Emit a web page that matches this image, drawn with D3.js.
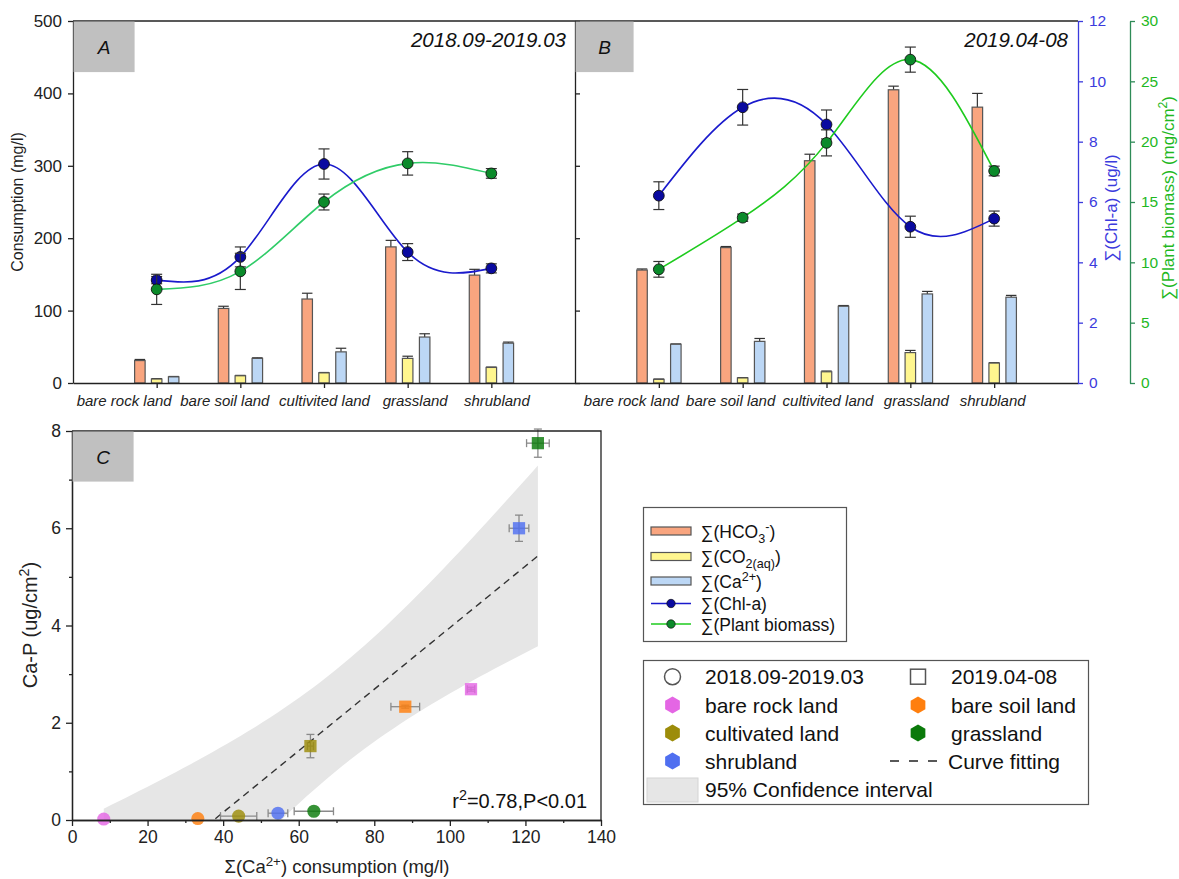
<!DOCTYPE html>
<html>
<head>
<meta charset="utf-8">
<script src="https://cdn.jsdelivr.net/npm/d3@7"></script>
<style>
  body { margin: 0; background: #fff; }
  svg { font-family: 'Liberation Sans', Arial, sans-serif; }
</style>
</head>
<body>
<div id="chart"></div>
<script>
// ---------- data ----------
var landTypes = ['bare rock land', 'bare soil land', 'cultivited land', 'grassland', 'shrubland'];

// panel A : 2018.09-2019.03
var hco3A = [31, 103, 116, 188, 149];
var hco3ErrA = [1.5, 3, 8, 9, 8];
var co2A = [5.5, 10, 14, 34, 21.5];
var co2ErrA = [0.5, 0.5, 0.5, 3, 0.5];
var caA = [8.5, 34, 43, 63.5, 55];
var caErrA = [0.5, 0.8, 5, 4.5, 1.5];
var chlA = [3.41, 4.18, 7.26, 4.34, 3.8];
var chlErrA = [0.12, 0.33, 0.5, 0.28, 0.15];
var bioA = [7.76, 9.25, 15.0, 18.2, 17.37];
var bioErrA = [1.25, 1.5, 0.66, 0.97, 0.4];

// panel B : 2019.04-08
var hco3B = [156, 187, 307, 405, 381];
var hco3ErrB = [1.5, 1.5, 9, 5, 19];
var co2B = [5, 7, 15.5, 42, 27.5];
var co2ErrB = [0.5, 0.5, 1, 3, 0.5];
var caB = [53.5, 57.5, 106, 123, 118.5];
var caErrB = [0.5, 4, 1, 3.5, 2.5];
var chlB = [6.21, 9.14, 8.57, 5.18, 5.45];
var chlErrB = [0.46, 0.59, 0.48, 0.35, 0.25];
var bioB = [9.42, 13.7, 19.9, 26.8, 17.57];
var bioErrB = [0.65, 0.3, 1.08, 1.04, 0.4];

// panel C : Ca-P vs Ca2+ consumption
var scatterLand = ['bare rock land', 'bare soil land', 'cultivated land', 'grassland', 'shrubland'];
var landColors = ['#e466e4', '#ff7f0e', '#9c8c0a', '#0a7a0a', '#4f6ff0'];
var caCons2018 = [8.4, 33.3, 44.1, 64.0, 54.5];
var caConsErr2018 = [0, 0, 4.8, 5.2, 2.6];
var caP2018 = [0.02, 0.03, 0.08, 0.18, 0.14];
var caPErr2018 = [0, 0, 0, 0, 0];
var caCons2019 = [105.6, 88.2, 63.1, 123.3, 118.3];
var caConsErr2019 = [1, 3.8, 0.8, 3, 2.6];
var caP2019 = [2.69, 2.33, 1.52, 7.75, 6.0];
var caPErr2019 = [0.04, 0.03, 0.24, 0.29, 0.27];

var fontFam = "'Liberation Sans', Arial, sans-serif";

var svg = d3.select('#chart')
            .append('svg')
            .attr('width', 1179)
            .attr('height', 879);

// writes text with sub/superscript parts: [[text, 'sub'|'sup'|null], ...]
function addRich(sel, parts, size) {
  var shift = 0;
  parts.forEach(function(p) {
    var target = p[1] === 'sub' ? size * 0.3 : (p[1] === 'sup' ? -size * 0.4 : 0);
    var t = sel.append('tspan').text(p[0]).attr('dy', target - shift);
    if (p[1]) t.style('font-size', (size * 0.72) + 'px');
    shift = target;
  });
  return sel;
}

function styleAxis(g, color, size) {
  g.attr('font-family', fontFam).attr('font-size', size);
  g.selectAll('path.domain').attr('stroke', color).attr('stroke-width', 1.3);
  g.selectAll('.tick line').attr('stroke', color).attr('stroke-width', 1.3);
  g.selectAll('.tick text').attr('fill', color);
}

// ---------- panels A and B ----------
var yCons = d3.scaleLinear().domain([0, 500]).range([383, 21]);
var yChl = d3.scaleLinear().domain([0, 12]).range([383, 21]);
var yBio = d3.scaleLinear().domain([0, 30]).range([383, 21]);
var xA = d3.scaleLinear().domain([0, 6]).range([73, 575]);
var xB = d3.scaleLinear().domain([0, 6]).range([575, 1078]);

function drawPanel(x, d, bioColor, labelShift) {
  var g = svg.append('g');
  var barW = 10.5;
  var barSets = [
    { v: d.hco3, e: d.hco3Err, fill: '#f9a57f', off: -16.8 },
    { v: d.co2, e: d.co2Err, fill: '#fff68f', off: 0 },
    { v: d.ca, e: d.caErr, fill: '#bcd7f5', off: 17 }
  ];

  barSets.forEach(function(s) {
    var cx = function(v, i) { return x(i + 1) + s.off; };

    g.selectAll(null).data(s.v).enter().append('line')
     .attr('x1', cx).attr('x2', cx)
     .attr('y1', function(v) { return yCons(v); })
     .attr('y2', function(v, i) { return yCons(v + s.e[i]); })
     .attr('stroke', '#333').attr('stroke-width', 1.2);

    g.selectAll(null).data(s.v).enter().append('line')
     .attr('x1', function(v, i) { return cx(v, i) - barW / 2; })
     .attr('x2', function(v, i) { return cx(v, i) + barW / 2; })
     .attr('y1', function(v, i) { return yCons(v + s.e[i]); })
     .attr('y2', function(v, i) { return yCons(v + s.e[i]); })
     .attr('stroke', '#333').attr('stroke-width', 1.2);

    g.selectAll(null).data(s.v).enter().append('rect')
     .attr('x', function(v, i) { return cx(v, i) - barW / 2; })
     .attr('y', function(v) { return yCons(v); })
     .attr('width', barW)
     .attr('height', function(v) { return yCons(0) - yCons(v); })
     .attr('fill', s.fill)
     .attr('stroke', '#555')
     .attr('stroke-width', 1.2);
  });

  var series = [
    { v: d.chl, e: d.chlErr, y: yChl, line: '#1a1acc', fill: '#0a0aa0' },
    { v: d.bio, e: d.bioErr, y: yBio, line: bioColor, fill: '#0b8a2a' }
  ];

  series.forEach(function(s) {
    var line = d3.line()
                 .x(function(v, i) { return x(i + 1); })
                 .y(function(v) { return s.y(v); })
                 .curve(d3.curveNatural);
    g.append('path')
     .datum(s.v)
     .attr('d', line)
     .attr('fill', 'none')
     .attr('stroke', s.line)
     .attr('stroke-width', 1.6);
  });

  series.forEach(function(s) {
    var eb = g.selectAll(null).data(s.v).enter().append('g');
    eb.append('line')
      .attr('x1', function(v, i) { return x(i + 1); })
      .attr('x2', function(v, i) { return x(i + 1); })
      .attr('y1', function(v, i) { return s.y(v - s.e[i]); })
      .attr('y2', function(v, i) { return s.y(v + s.e[i]); });
    [-1, 1].forEach(function(sign) {
      eb.append('line')
        .attr('x1', function(v, i) { return x(i + 1) - 5.5; })
        .attr('x2', function(v, i) { return x(i + 1) + 5.5; })
        .attr('y1', function(v, i) { return s.y(v + sign * s.e[i]); })
        .attr('y2', function(v, i) { return s.y(v + sign * s.e[i]); });
    });
    eb.selectAll('line').attr('stroke', '#333').attr('stroke-width', 1.2);

    g.selectAll(null).data(s.v).enter().append('circle')
     .attr('cx', function(v, i) { return x(i + 1); })
     .attr('cy', function(v) { return s.y(v); })
     .attr('r', 5.4)
     .attr('fill', s.fill)
     .attr('stroke', '#111')
     .attr('stroke-width', 0.9);
  });

  // x axis (labels nudged apart like in the original figure)
  var xAxis = d3.axisBottom(x)
                .tickValues([1, 2, 3, 4, 5])
                .tickFormat(function(i) { return landTypes[i - 1]; })
                .tickSize(5)
                .tickSizeOuter(0)
                .tickPadding(7);
  var gx = svg.append('g')
              .attr('transform', 'translate(0,383)')
              .call(xAxis);
  styleAxis(gx, '#222', 15);
  gx.selectAll('.tick text')
    .style('font-style', 'italic')
    .attr('dx', function(i) { return labelShift[i - 1]; });
}

drawPanel(xA, {
  hco3: hco3A, hco3Err: hco3ErrA, co2: co2A, co2Err: co2ErrA, ca: caA, caErr: caErrA,
  chl: chlA, chlErr: chlErrA, bio: bioA, bioErr: bioErrA
}, '#30cc68', [-33, -16, 0, 7, 5]);

drawPanel(xB, {
  hco3: hco3B, hco3Err: hco3ErrB, co2: co2B, co2Err: co2ErrB, ca: caB, caErr: caErrB,
  chl: chlB, chlErr: chlErrB, bio: bioB, bioErr: bioErrB
}, '#1ecb1e', [-28, -12.5, 1, 5.5, -2]);

// top frame
svg.append('line')
   .attr('x1', 73).attr('x2', 1078).attr('y1', 21).attr('y2', 21)
   .attr('stroke', '#222').attr('stroke-width', 1.3);

// left axis of A
var gyA = svg.append('g')
             .attr('transform', 'translate(73,0)')
             .call(d3.axisLeft(yCons).tickValues([0, 100, 200, 300, 400, 500]).tickSize(5).tickSizeOuter(0).tickPadding(6));
styleAxis(gyA, '#222', 17);

// divider / left axis of B (ticks inward, no labels)
var gyB = svg.append('g')
             .attr('transform', 'translate(575,0)')
             .call(d3.axisRight(yCons).tickValues([0, 100, 200, 300, 400, 500]).tickSize(5).tickSizeOuter(0).tickFormat(''));
styleAxis(gyB, '#222', 17);

// right axes of B
var gChl = svg.append('g')
              .attr('transform', 'translate(1078,0)')
              .call(d3.axisRight(yChl).tickValues([0, 2, 4, 6, 8, 10, 12]).tickSize(5).tickSizeOuter(0).tickPadding(6));
styleAxis(gChl, '#3b3bdd', 15.5);

var gBio = svg.append('g')
              .attr('transform', 'translate(1130,0)')
              .call(d3.axisRight(yBio).tickValues([0, 5, 10, 15, 20, 25, 30]).tickSize(5).tickSizeOuter(0).tickPadding(6));
styleAxis(gBio, '#2e8b57', 15.5);
gBio.selectAll('.tick text').attr('fill', '#1fb81f');

// axis titles
svg.append('text')
   .attr('transform', 'translate(23,202) rotate(-90)')
   .attr('text-anchor', 'middle')
   .style('font-size', '16px')
   .attr('fill', '#222')
   .text('Consumption (mg/l)');

addRich(svg.append('text')
           .attr('transform', 'translate(1117,208) rotate(-90)')
           .attr('text-anchor', 'middle')
           .style('font-size', '17px')
           .attr('fill', '#3b3bdd'),
        [['\u2211(Chl-a) (ug/l)', null]], 17);

addRich(svg.append('text')
           .attr('transform', 'translate(1174,198) rotate(-90)')
           .attr('text-anchor', 'middle')
           .style('font-size', '17px')
           .attr('fill', '#1fb81f'),
        [['\u2211(Plant biomass) (mg/cm', null], ['2', 'sup'], [')', null]], 17);

// panel tags and periods
function panelTag(x0, y0, w, h, label) {
  svg.append('rect')
     .attr('x', x0).attr('y', y0).attr('width', w).attr('height', h)
     .attr('fill', '#c0c0c0');
  svg.append('text')
     .attr('x', x0 + w / 2).attr('y', y0 + 32)
     .attr('text-anchor', 'middle')
     .style('font-size', '19px')
     .style('font-style', 'italic')
     .attr('fill', '#111')
     .text(label);
}
panelTag(73.6, 21.6, 61, 50.5, 'A');
panelTag(575.6, 21.6, 58, 50.5, 'B');

svg.append('text')
   .attr('x', 566).attr('y', 47)
   .attr('text-anchor', 'end')
   .style('font-size', '20.5px')
   .style('font-style', 'italic')
   .attr('fill', '#111')
   .text('2018.09-2019.03');

svg.append('text')
   .attr('x', 1068).attr('y', 47)
   .attr('text-anchor', 'end')
   .style('font-size', '20.5px')
   .style('font-style', 'italic')
   .attr('fill', '#111')
   .text('2019.04-08');

// ---------- panel C ----------
var xC = d3.scaleLinear().domain([0, 140]).range([72, 601]);
var yC = d3.scaleLinear().domain([0, 8]).range([820, 431]);

var allX = caCons2018.concat(caCons2019);
var allY = caP2018.concat(caP2019);

// least squares fit and 95% confidence band of the mean
function linearFit(xs, ys) {
  var n = xs.length;
  var mx = d3.mean(xs), my = d3.mean(ys);
  var sxx = d3.sum(xs, function(v) { return (v - mx) * (v - mx); });
  var sxy = d3.sum(xs, function(v, i) { return (v - mx) * (ys[i] - my); });
  var b = sxy / sxx, a = my - b * mx;
  var sse = d3.sum(xs, function(v, i) { return Math.pow(ys[i] - a - b * v, 2); });
  return { a: a, b: b, s: Math.sqrt(sse / (n - 2)), n: n, mx: mx, sxx: sxx };
}
var fit = linearFit(allX, allY);
var tCrit = 2.306; // t(0.975, df = 8)

var xExtent = d3.extent(allX);
var bandX = d3.range(0, 61).map(function(k) { return xExtent[0] + (xExtent[1] - xExtent[0]) * k / 60; });
var band = bandX.map(function(v) {
  var yh = fit.a + fit.b * v;
  var hw = tCrit * fit.s * Math.sqrt(1 / fit.n + Math.pow(v - fit.mx, 2) / fit.sxx);
  return { x: v, lo: yh - hw, hi: yh + hw, y: yh };
});

svg.append('clipPath')
   .attr('id', 'clipC')
   .append('rect')
   .attr('x', 72).attr('y', 431).attr('width', 529).attr('height', 389);

var gc = svg.append('g').attr('clip-path', 'url(#clipC)');

gc.append('path')
  .datum(band)
  .attr('d', d3.area()
               .x(function(d) { return xC(d.x); })
               .y0(function(d) { return yC(d.lo); })
               .y1(function(d) { return yC(d.hi); }))
  .attr('fill', '#e6e6e6');

gc.append('path')
  .datum(band)
  .attr('d', d3.line()
               .x(function(d) { return xC(d.x); })
               .y(function(d) { return yC(d.y); }))
  .attr('fill', 'none')
  .attr('stroke', '#333')
  .attr('stroke-width', 1.4)
  .attr('stroke-dasharray', '7,5');

// points and error bars
function drawScatter(xs, xe, ys, ye, shape) {
  var pts = xs.map(function(v, i) { return { x: v, xe: xe[i], y: ys[i], ye: ye[i], c: landColors[i] }; });
  var eb = svg.append('g').attr('stroke', '#8a8a8a').attr('stroke-width', 1.3);
  pts.forEach(function(p) {
    if (p.xe > 0) {
      eb.append('line').attr('x1', xC(p.x - p.xe)).attr('x2', xC(p.x + p.xe)).attr('y1', yC(p.y)).attr('y2', yC(p.y));
      eb.append('line').attr('x1', xC(p.x - p.xe)).attr('x2', xC(p.x - p.xe)).attr('y1', yC(p.y) - 4).attr('y2', yC(p.y) + 4);
      eb.append('line').attr('x1', xC(p.x + p.xe)).attr('x2', xC(p.x + p.xe)).attr('y1', yC(p.y) - 4).attr('y2', yC(p.y) + 4);
    }
    if (p.ye > 0) {
      eb.append('line').attr('x1', xC(p.x)).attr('x2', xC(p.x)).attr('y1', yC(p.y - p.ye)).attr('y2', yC(p.y + p.ye));
      eb.append('line').attr('x1', xC(p.x) - 4).attr('x2', xC(p.x) + 4).attr('y1', yC(p.y - p.ye)).attr('y2', yC(p.y - p.ye));
      eb.append('line').attr('x1', xC(p.x) - 4).attr('x2', xC(p.x) + 4).attr('y1', yC(p.y + p.ye)).attr('y2', yC(p.y + p.ye));
    }
  });
  svg.append('g').selectAll('path')
     .data(pts).enter().append('path')
     .attr('transform', function(p) { return 'translate(' + xC(p.x) + ',' + yC(p.y) + ')'; })
     .attr('d', d3.symbol().type(shape).size(shape === d3.symbolCircle ? 135 : 150))
     .attr('fill', function(p) { return p.c; })
     .attr('fill-opacity', 0.82);
}
drawScatter(caCons2018, caConsErr2018, caP2018, caPErr2018, d3.symbolCircle);
drawScatter(caCons2019, caConsErr2019, caP2019, caPErr2019, d3.symbolSquare);

// frame + axes
svg.append('path')
   .attr('d', 'M72,431H601V820')
   .attr('fill', 'none').attr('stroke', '#222').attr('stroke-width', 1.3);

var gxC = svg.append('g').attr('transform', 'translate(0,820)')
             .call(d3.axisBottom(xC).tickValues(d3.range(0, 141, 20)).tickSize(6).tickSizeOuter(0).tickPadding(5));
styleAxis(gxC, '#222', 17.5);
var gxCm = svg.append('g').attr('transform', 'translate(0,820)')
              .call(d3.axisBottom(xC).tickValues(d3.range(10, 140, 20)).tickSize(3).tickSizeOuter(0).tickFormat(''));
styleAxis(gxCm, '#222', 17.5);

var gyC = svg.append('g').attr('transform', 'translate(72,0)')
             .call(d3.axisLeft(yC).tickValues([0, 2, 4, 6, 8]).tickSize(6).tickSizeOuter(0).tickPadding(5));
styleAxis(gyC, '#222', 17.5);
var gyCm = svg.append('g').attr('transform', 'translate(72,0)')
              .call(d3.axisLeft(yC).tickValues([1, 3, 5, 7]).tickSize(3).tickSizeOuter(0).tickFormat(''));
styleAxis(gyCm, '#222', 17.5);

panelTag(72.6, 431.6, 61, 50, 'C');

addRich(svg.append('text')
           .attr('transform', 'translate(37,625) rotate(-90)')
           .attr('text-anchor', 'middle')
           .style('font-size', '20px')
           .attr('fill', '#222'),
        [['Ca-P (ug/cm', null], ['2', 'sup'], [')', null]], 20);

addRich(svg.append('text')
           .attr('x', 337).attr('y', 873)
           .attr('text-anchor', 'middle')
           .style('font-size', '18.5px')
           .attr('fill', '#222'),
        [['\u03A3(Ca', null], ['2+', 'sup'], [') consumption (mg/l)', null]], 18.5);

addRich(svg.append('text')
           .attr('x', 587).attr('y', 808)
           .attr('text-anchor', 'end')
           .style('font-size', '20px')
           .attr('fill', '#111'),
        [['r', null], ['2', 'sup'], ['=0.78,P<0.01', null]], 20);

// ---------- legend 1 (bars and lines) ----------
var leg1 = svg.append('g');
leg1.append('rect')
    .attr('x', 643.5).attr('y', 507.5).attr('width', 203).attr('height', 134)
    .attr('fill', '#fff').attr('stroke', '#555').attr('stroke-width', 1.2);

var barLegend = [
  { fill: '#f9a57f', y: 531, parts: [['\u2211(HCO', null], ['3', 'sub'], ['-', 'sup'], [')', null]] },
  { fill: '#fff68f', y: 556.5, parts: [['\u2211(CO', null], ['2(aq)', 'sub'], [')', null]] },
  { fill: '#bcd7f5', y: 581, parts: [['\u2211(Ca', null], ['2+', 'sup'], [')', null]] }
];
barLegend.forEach(function(b) {
  leg1.append('rect')
      .attr('x', 651).attr('y', b.y - 4).attr('width', 40).attr('height', 8)
      .attr('fill', b.fill).attr('stroke', '#555').attr('stroke-width', 1.2);
  addRich(leg1.append('text').attr('x', 701).attr('y', b.y + 6.5)
              .style('font-size', '17.5px').attr('fill', '#111'), b.parts, 17.5);
});

var lineLegend = [
  { line: '#1a1acc', fill: '#0a0aa0', y: 603.5, label: '\u2211(Chl-a)' },
  { line: '#1ecb1e', fill: '#0b8a2a', y: 624, label: '\u2211(Plant biomass)' }
];
lineLegend.forEach(function(l) {
  leg1.append('line')
      .attr('x1', 651).attr('x2', 691).attr('y1', l.y).attr('y2', l.y)
      .attr('stroke', l.line).attr('stroke-width', 1.5);
  leg1.append('circle')
      .attr('cx', 671).attr('cy', l.y).attr('r', 4.2)
      .attr('fill', l.fill).attr('stroke', '#111').attr('stroke-width', 0.7);
  leg1.append('text').attr('x', 701).attr('y', l.y + 6.5)
      .style('font-size', '17.5px').attr('fill', '#111').text(l.label);
});

// ---------- legend 2 (panel C) ----------
var leg2 = svg.append('g');
leg2.append('rect')
    .attr('x', 643.5).attr('y', 660.5).attr('width', 445).attr('height', 144)
    .attr('fill', '#fff').attr('stroke', '#555').attr('stroke-width', 1.2);

var rowY = [676.7, 705, 733, 761, 789];

function hexagon(r) {
  var pts = d3.range(6).map(function(k) {
    var a = Math.PI / 3 * k - Math.PI / 2;
    return [r * Math.cos(a), r * Math.sin(a)];
  });
  return d3.line()(pts) + 'Z';
}

function legText(x, y, label) {
  leg2.append('text').attr('x', x).attr('y', y + 7.5)
      .style('font-size', '21px').attr('fill', '#111').text(label);
}

leg2.append('circle')
    .attr('cx', 672.5).attr('cy', rowY[0]).attr('r', 8)
    .attr('fill', 'none').attr('stroke', '#555').attr('stroke-width', 1.5);
legText(705, rowY[0], '2018.09-2019.03');
leg2.append('rect')
    .attr('x', 910.5).attr('y', rowY[0] - 7.5).attr('width', 15).attr('height', 15)
    .attr('fill', 'none').attr('stroke', '#555').attr('stroke-width', 1.5);
legText(951, rowY[0], '2019.04-08');

var hexSlots = [
  { i: 0, x: 672.5, tx: 705, row: 1 },
  { i: 1, x: 918, tx: 951, row: 1 },
  { i: 2, x: 672.5, tx: 705, row: 2 },
  { i: 3, x: 918, tx: 951, row: 2 },
  { i: 4, x: 672.5, tx: 705, row: 3 }
];
hexSlots.forEach(function(h) {
  leg2.append('path')
      .attr('transform', 'translate(' + h.x + ',' + rowY[h.row] + ')')
      .attr('d', hexagon(8.5))
      .attr('fill', landColors[h.i]);
  legText(h.tx, rowY[h.row], scatterLand[h.i]);
});

leg2.append('line')
    .attr('x1', 890).attr('x2', 945).attr('y1', rowY[3]).attr('y2', rowY[3])
    .attr('stroke', '#222').attr('stroke-width', 1.6)
    .attr('stroke-dasharray', '9,10');
legText(948, rowY[3], 'Curve fitting');

leg2.append('rect')
    .attr('x', 647).attr('y', 778).attr('width', 51).attr('height', 24)
    .attr('fill', '#e6e6e6').attr('stroke', '#d4d4d4');
legText(705, rowY[4], '95% Confidence interval');
</script>
</body>
</html>
